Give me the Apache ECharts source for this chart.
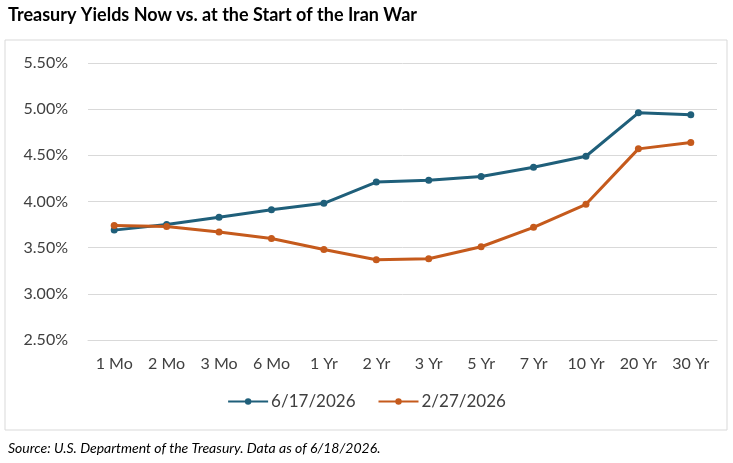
<!DOCTYPE html>
<html lang="en">
  <head>
    <meta charset="utf-8" />
    <style>
      html, body { margin: 0; width: 100%; height: 100%; background: #fff; }
      #container { width: 733px; height: 463px; }
    </style>
    <script src="https://cdn.jsdelivr.net/npm/echarts@6/dist/echarts.min.js"></script>
  </head>
  <body>
    <div id="container"></div>
    <script>
      var categories = ["1 Mo", "2 Mo", "3 Mo", "6 Mo", "1 Yr", "2 Yr", "3 Yr", "5 Yr", "7 Yr", "10 Yr", "20 Yr", "30 Yr"];
      var juneYields = [3.69, 3.75, 3.83, 3.91, 3.98, 4.21, 4.23, 4.27, 4.37, 4.49, 4.96, 4.94];
      var febYields = [3.74, 3.73, 3.67, 3.60, 3.48, 3.37, 3.38, 3.51, 3.72, 3.97, 4.57, 4.64];

      var font = "Lato, 'Open Sans', sans-serif";
      var chart = echarts.init(document.getElementById("container"));
      chart.setOption({
        animation: false,
        textStyle: { fontFamily: font },
        graphic: [
          { type: "rect", shape: { x: 5, y: 40, width: 722, height: 390 },
            style: { fill: "none", stroke: "#d9d9d9", lineWidth: 1 } },
          { type: "text", left: 8, top: 6,
            style: { text: "Treasury Yields Now vs. at the Start of the Iran War", font: "bold 18px " + font, fill: "#000" } },
          { type: "text", left: 8, top: 441,
            style: { text: "Source: U.S. Department of the Treasury. Data as of 6/18/2026.", font: "italic 14px " + font, fill: "#000" } }
        ],
        grid: { left: 88, right: 16, top: 63, bottom: 123 },
        legend: {
          bottom: 48, itemGap: 22, itemWidth: 40, itemHeight: 8,
          textStyle: { fontSize: 17, color: "#404040", padding: [0, 0, 0, -2] },
          data: ["6/17/2026", "2/27/2026"]
        },
        xAxis: {
          type: "category", data: categories, boundaryGap: true,
          axisLine: { lineStyle: { color: "#d9d9d9" } },
          axisTick: { show: false },
          axisLabel: { fontSize: 16, color: "#404040", margin: 16 }
        },
        yAxis: {
          type: "value", min: 2.5, max: 5.5, interval: 0.5,
          axisLabel: { fontSize: 16, color: "#404040", margin: 20,
            formatter: function (v) { return v.toFixed(2) + "%"; } },
          splitLine: { lineStyle: { color: "#d9d9d9" } }
        },
        series: [
          { name: "6/17/2026", type: "line", data: juneYields,
            symbol: "circle", symbolSize: 7,
            itemStyle: { color: "#1f5f7a" }, lineStyle: { width: 3, color: "#1f5f7a" } },
          { name: "2/27/2026", type: "line", data: febYields,
            symbol: "circle", symbolSize: 7,
            itemStyle: { color: "#c55a1c" }, lineStyle: { width: 3, color: "#c55a1c" } }
        ]
      });
    </script>
  </body>
</html>
